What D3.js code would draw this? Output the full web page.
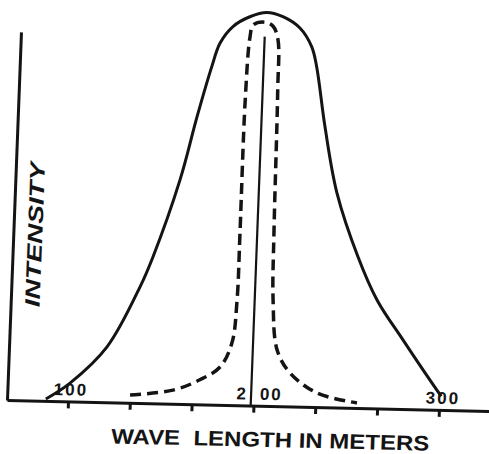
<!DOCTYPE html>
<html>
<head>
<meta charset="utf-8">
<script src="https://cdn.jsdelivr.net/npm/d3@7"></script>
<style>
  body { margin: 0; background: #fff; }
  svg { display: block; }
</style>
</head>
<body>
<div id="chart"></div>
<script>
// Datos: longitud de onda (m) e intensidad relativa
const broadWave = [88, 100.7, 119.9, 136.4, 142.8, 155.8, 163.7, 170.6, 174.6, 181.2, 190.1, 199.1, 207.9, 217.3, 224, 227.1, 232.8, 240.6, 253.3, 264.4, 279.2, 298.4, 301];
const broadInt  = [0.5, 4.7, 14.2, 29.7, 37.5, 57.4, 73.7, 86.6, 92.7, 97.0, 99.6, 100.8, 99.8, 97, 92.3, 87.2, 71.9, 55, 38.7, 27.8, 17.7, 5.1, 3.5];

const sharpWave = [133.3, 156.3, 170.6, 181.2, 187.1, 189, 189.2, 189.3, 190.6, 192.1, 198.3, 202.8, 205.7, 206.6, 207.5, 208.4, 211.6, 219, 234, 255.7];
const sharpInt  = [2.0, 3.5, 6.3, 9.7, 15.9, 27, 44, 78.3, 94.5, 97.5, 98.3, 97.3, 93.9, 81, 44.4, 27.2, 14.4, 8.6, 3.6, 1.3];

const tickValues = [100, 133.33, 166.67, 200, 233.33, 266.67, 300];
const tickLabels = ['100', '', '', '200', '', '', '300'];

const resonanceWave = 198.5;   // línea vertical del pico
const resonanceTop = 94.6;
const axisTopInt = 94.4;       // altura del eje de intensidad
const xTitle = 'WAVE  LENGTH IN METERS';
const yTitle = 'INTENSITY';

const INK = '#141414';
const FONT = '"Liberation Sans", Arial, sans-serif';

let width = 489, height = 454;

let svg = d3.select('#chart')
    .append('svg')
        .attr('width', width)
        .attr('height', height);

// El dibujo original está algo torcido: ejes ligeramente inclinados
let g = svg.append('g')
    .attr('transform', 'matrix(1, 0.0228, -0.038, 1, 7, 400)');

let x = d3.scaleLinear()
    .domain([67.1, 327])
    .range([0, 482]);

let y = d3.scaleLinear()
    .domain([0, 100])
    .range([0, -390]);

// Eje X
let xAxis = g.append('g')
    .call(d3.axisBottom(x)
        .tickValues(tickValues)
        .tickSize(7)
        .tickSizeOuter(0)
        .tickFormat(function(d, i) { return tickLabels[i]; }));

xAxis.select('.domain')
    .attr('stroke', INK)
    .attr('stroke-width', 3);

xAxis.selectAll('.tick line')
    .attr('stroke', INK)
    .attr('stroke-width', 3);

xAxis.selectAll('.tick text')
    .attr('y', -6)
    .attr('dy', 0)
    .attr('fill', INK)
    .style('font-family', FONT)
    .style('font-weight', 'bold')
    .style('font-size', '17px')
    .style('letter-spacing', '2px')
    .attr('dx', function(d, i) { return i === 0 ? 2 : (i === 6 ? 3 : 0); })
    .each(function(d, i) {
        if (i === 3) {
            let t = d3.select(this).text('');
            t.attr('text-anchor', 'start').attr('dx', -18);
            t.append('tspan').text('2');
            t.append('tspan').attr('dx', 12).text('00');
        }
    });

// Eje Y (sin marcas)
let yAxis = g.append('g')
    .call(d3.axisLeft(y.copy().domain([0, axisTopInt]).range([0, y(axisTopInt)]))
        .tickValues([])
        .tickSizeOuter(0));

yAxis.select('.domain')
    .attr('stroke', INK)
    .attr('stroke-width', 3);

// Línea vertical en la resonancia
g.append('line')
    .attr('x1', x(resonanceWave))
    .attr('x2', x(resonanceWave))
    .attr('y1', y(0))
    .attr('y2', y(resonanceTop))
    .attr('stroke', INK)
    .attr('stroke-width', 2.2);

let line = d3.line()
    .x(function(d) { return x(d[0]); })
    .y(function(d) { return y(d[1]); })
    .curve(d3.curveCatmullRom.alpha(0.5));

// Curva ancha (continua)
g.append('path')
    .datum(d3.zip(broadWave, broadInt))
    .attr('d', line)
    .attr('fill', 'none')
    .attr('stroke', INK)
    .attr('stroke-width', 3);

// Curva aguda (discontinua)
g.append('path')
    .datum(d3.zip(sharpWave, sharpInt))
    .attr('d', line)
    .attr('fill', 'none')
    .attr('stroke', INK)
    .attr('stroke-width', 3.5)
    .attr('stroke-dasharray', '11,6');

// Títulos
g.append('text')
    .attr('x', 264.6)
    .attr('y', 41)
    .attr('text-anchor', 'middle')
    .attr('textLength', 318)
    .attr('lengthAdjust', 'spacingAndGlyphs')
    .attr('fill', INK)
    .style('white-space', 'pre')
    .style('font-family', FONT)
    .style('font-weight', 'bold')
    .style('font-size', '21px')
    .text(xTitle);

g.append('text')
    .attr('transform', 'translate(29,-166) rotate(-90)')
    .attr('text-anchor', 'middle')
    .attr('textLength', 145)
    .attr('lengthAdjust', 'spacingAndGlyphs')
    .attr('fill', INK)
    .style('font-family', FONT)
    .style('font-style', 'italic')
    .style('font-weight', 'bold')
    .style('font-size', '21px')
    .text(yTitle);
</script>
</body>
</html>
